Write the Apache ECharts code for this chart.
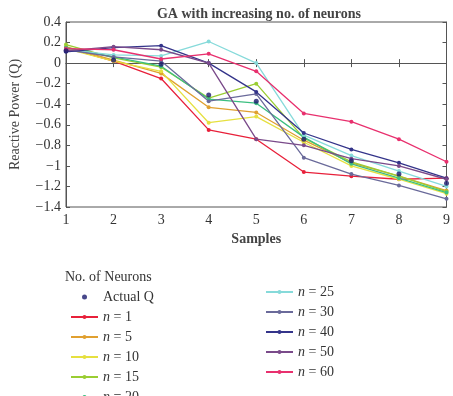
<!DOCTYPE html>
<html>
<head>
<meta charset="utf-8">
<script src="https://cdn.jsdelivr.net/npm/echarts@6/dist/echarts.min.js"></script>
<style>
  html, body { margin: 0; padding: 0; background: #fff; }
  #chart { width: 453px; height: 396px; }
</style>
</head>
<body>
<div id="chart"></div>
<script>
// samples on the x axis
const samples = [1, 2, 3, 4, 5, 6, 7, 8, 9]

// reactive power values
const actualQ = [0.12, 0.03, -0.01, -0.31, -0.37, -0.74, -0.95, -1.08, -1.17]
const n1 = [0.15, 0.02, -0.15, -0.65, -0.74, -1.06, -1.10, -1.13, -1.12]
const n5 = [0.16, 0.03, -0.10, -0.43, -0.48, -0.75, -0.97, -1.10, -1.24]
const n10 = [0.14, 0.02, -0.08, -0.58, -0.52, -0.77, -1.00, -1.13, -1.27]
const n15 = [0.18, 0.05, -0.04, -0.34, -0.20, -0.73, -0.96, -1.10, -1.25]
const n20 = [0.15, 0.06, -0.03, -0.35, -0.39, -0.72, -0.98, -1.12, -1.26]
const n25 = [0.13, 0.08, 0.07, 0.21, 0.00, -0.70, -0.90, -1.05, -1.20]
const n30 = [0.13, 0.06, 0.02, -0.37, -0.30, -0.92, -1.08, -1.19, -1.32]
const n40 = [0.11, 0.15, 0.17, 0.00, -0.28, -0.68, -0.84, -0.97, -1.12]
const n50 = [0.12, 0.16, 0.13, 0.00, -0.74, -0.80, -0.93, -1.00, -1.13]
const n60 = [0.14, 0.13, 0.04, 0.09, -0.08, -0.49, -0.57, -0.74, -0.96]

const yTicks = [-1.4, 0.4, 0.2] // min, max, interval

const lineSeries = [
  { name: 'n = 1', data: n1, color: '#e8203a' },
  { name: 'n = 5', data: n5, color: '#e0a030' },
  { name: 'n = 10', data: n10, color: '#e6e040' },
  { name: 'n = 15', data: n15, color: '#9acd32' },
  { name: 'n = 20', data: n20, color: '#3cbf80' },
  { name: 'n = 25', data: n25, color: '#86dada' },
  { name: 'n = 30', data: n30, color: '#6a6a9a' },
  { name: 'n = 40', data: n40, color: '#34348a' },
  { name: 'n = 50', data: n50, color: '#7a4a8a' },
  { name: 'n = 60', data: n60, color: '#e8306e' }
]

const font = 'Liberation Serif'
const fmtNum = v => {
  const s = String(+v.toFixed(1))
  return s.replace('-', '\u2212')
}
const legendFmt = name => {
  if (name.startsWith('n = ')) return '{i|n} = ' + name.slice(4)
  return name
}
const legendText = {
  fontFamily: font, fontSize: 14, color: '#333',
  padding: [0, 0, 0, 0],
  rich: { i: { fontFamily: font, fontSize: 14, fontStyle: 'italic', color: '#333' } }
}

const chart = echarts.init(document.getElementById('chart'))

const series = [
  {
    name: 'Actual Q',
    type: 'scatter',
    symbol: 'circle',
    symbolSize: 5,
    itemStyle: { color: '#1a1a6e' },
    data: samples.map((s, i) => [s, actualQ[i]]),
    z: 10
  }
].concat(lineSeries.map(s => ({
  name: s.name,
  type: 'line',
  symbol: 'circle',
  symbolSize: 4,
  showSymbol: true,
  lineStyle: { width: 1.3, color: s.color },
  itemStyle: { color: s.color },
  data: samples.map((x, i) => [x, s.data[i]])
})))

const axisLine = { show: true, lineStyle: { color: '#555', width: 1 } }
const axisTick = { show: true, inside: true, length: 4, lineStyle: { color: '#555' } }

const legendBase = {
  orient: 'vertical', height: 160,
  itemWidth: 27, itemHeight: 5, itemGap: 6,
  formatter: legendFmt, textStyle: legendText
}

const option = {
  animation: false,
  backgroundColor: '#fff',
  title: {
    text: 'GA with increasing no. of neurons',
    left: 254, top: 2, textAlign: 'center',
    textStyle: { fontFamily: font, fontSize: 14, fontWeight: 'bold', color: '#444' }
  },
  graphic: [{
    type: 'text', left: 65, top: 270,
    style: { text: 'No. of Neurons', fontFamily: font, fontSize: 14, fill: '#333' }
  }],
  legend: [
    Object.assign({}, legendBase, {
      data: ['Actual Q', 'n = 1', 'n = 5', 'n = 10', 'n = 15', 'n = 20'],
      left: 65, top: 285
    }),
    Object.assign({}, legendBase, {
      data: ['n = 25', 'n = 30', 'n = 40', 'n = 50', 'n = 60'],
      left: 260, top: 280
    })
  ],
  grid: { left: 61, right: 5, top: 22, bottom: 189, show: true, borderColor: '#555', borderWidth: 1 },
  xAxis: [
    {
      type: 'value', min: 1, max: 9, interval: 1,
      name: 'Samples', nameLocation: 'middle', nameGap: 25,
      nameTextStyle: { fontFamily: font, fontSize: 14, fontWeight: 'bold', color: '#444' },
      axisLine, axisTick,
      axisLabel: { fontFamily: font, fontSize: 14, color: '#333', margin: 6 },
      splitLine: { show: false }
    },
    {
      type: 'value', min: 1, max: 9, interval: 1, position: 'top',
      axisLine, axisTick, axisLabel: { show: false }, splitLine: { show: false }
    }
  ],
  yAxis: [
    {
      type: 'value', min: yTicks[0], max: yTicks[1], interval: yTicks[2],
      name: 'Reactive Power (Q)', nameLocation: 'middle', nameGap: 44,
      nameTextStyle: { fontFamily: font, fontSize: 14, color: '#444' },
      axisLine, axisTick,
      axisLabel: { fontFamily: font, fontSize: 14, color: '#333', margin: 5, formatter: fmtNum },
      splitLine: { show: false }
    },
    {
      type: 'value', min: yTicks[0], max: yTicks[1], interval: yTicks[2], position: 'right',
      axisLine, axisTick, axisLabel: { show: false }, splitLine: { show: false }
    }
  ],
  series: series
}

chart.setOption(option)
</script>
</body>
</html>
